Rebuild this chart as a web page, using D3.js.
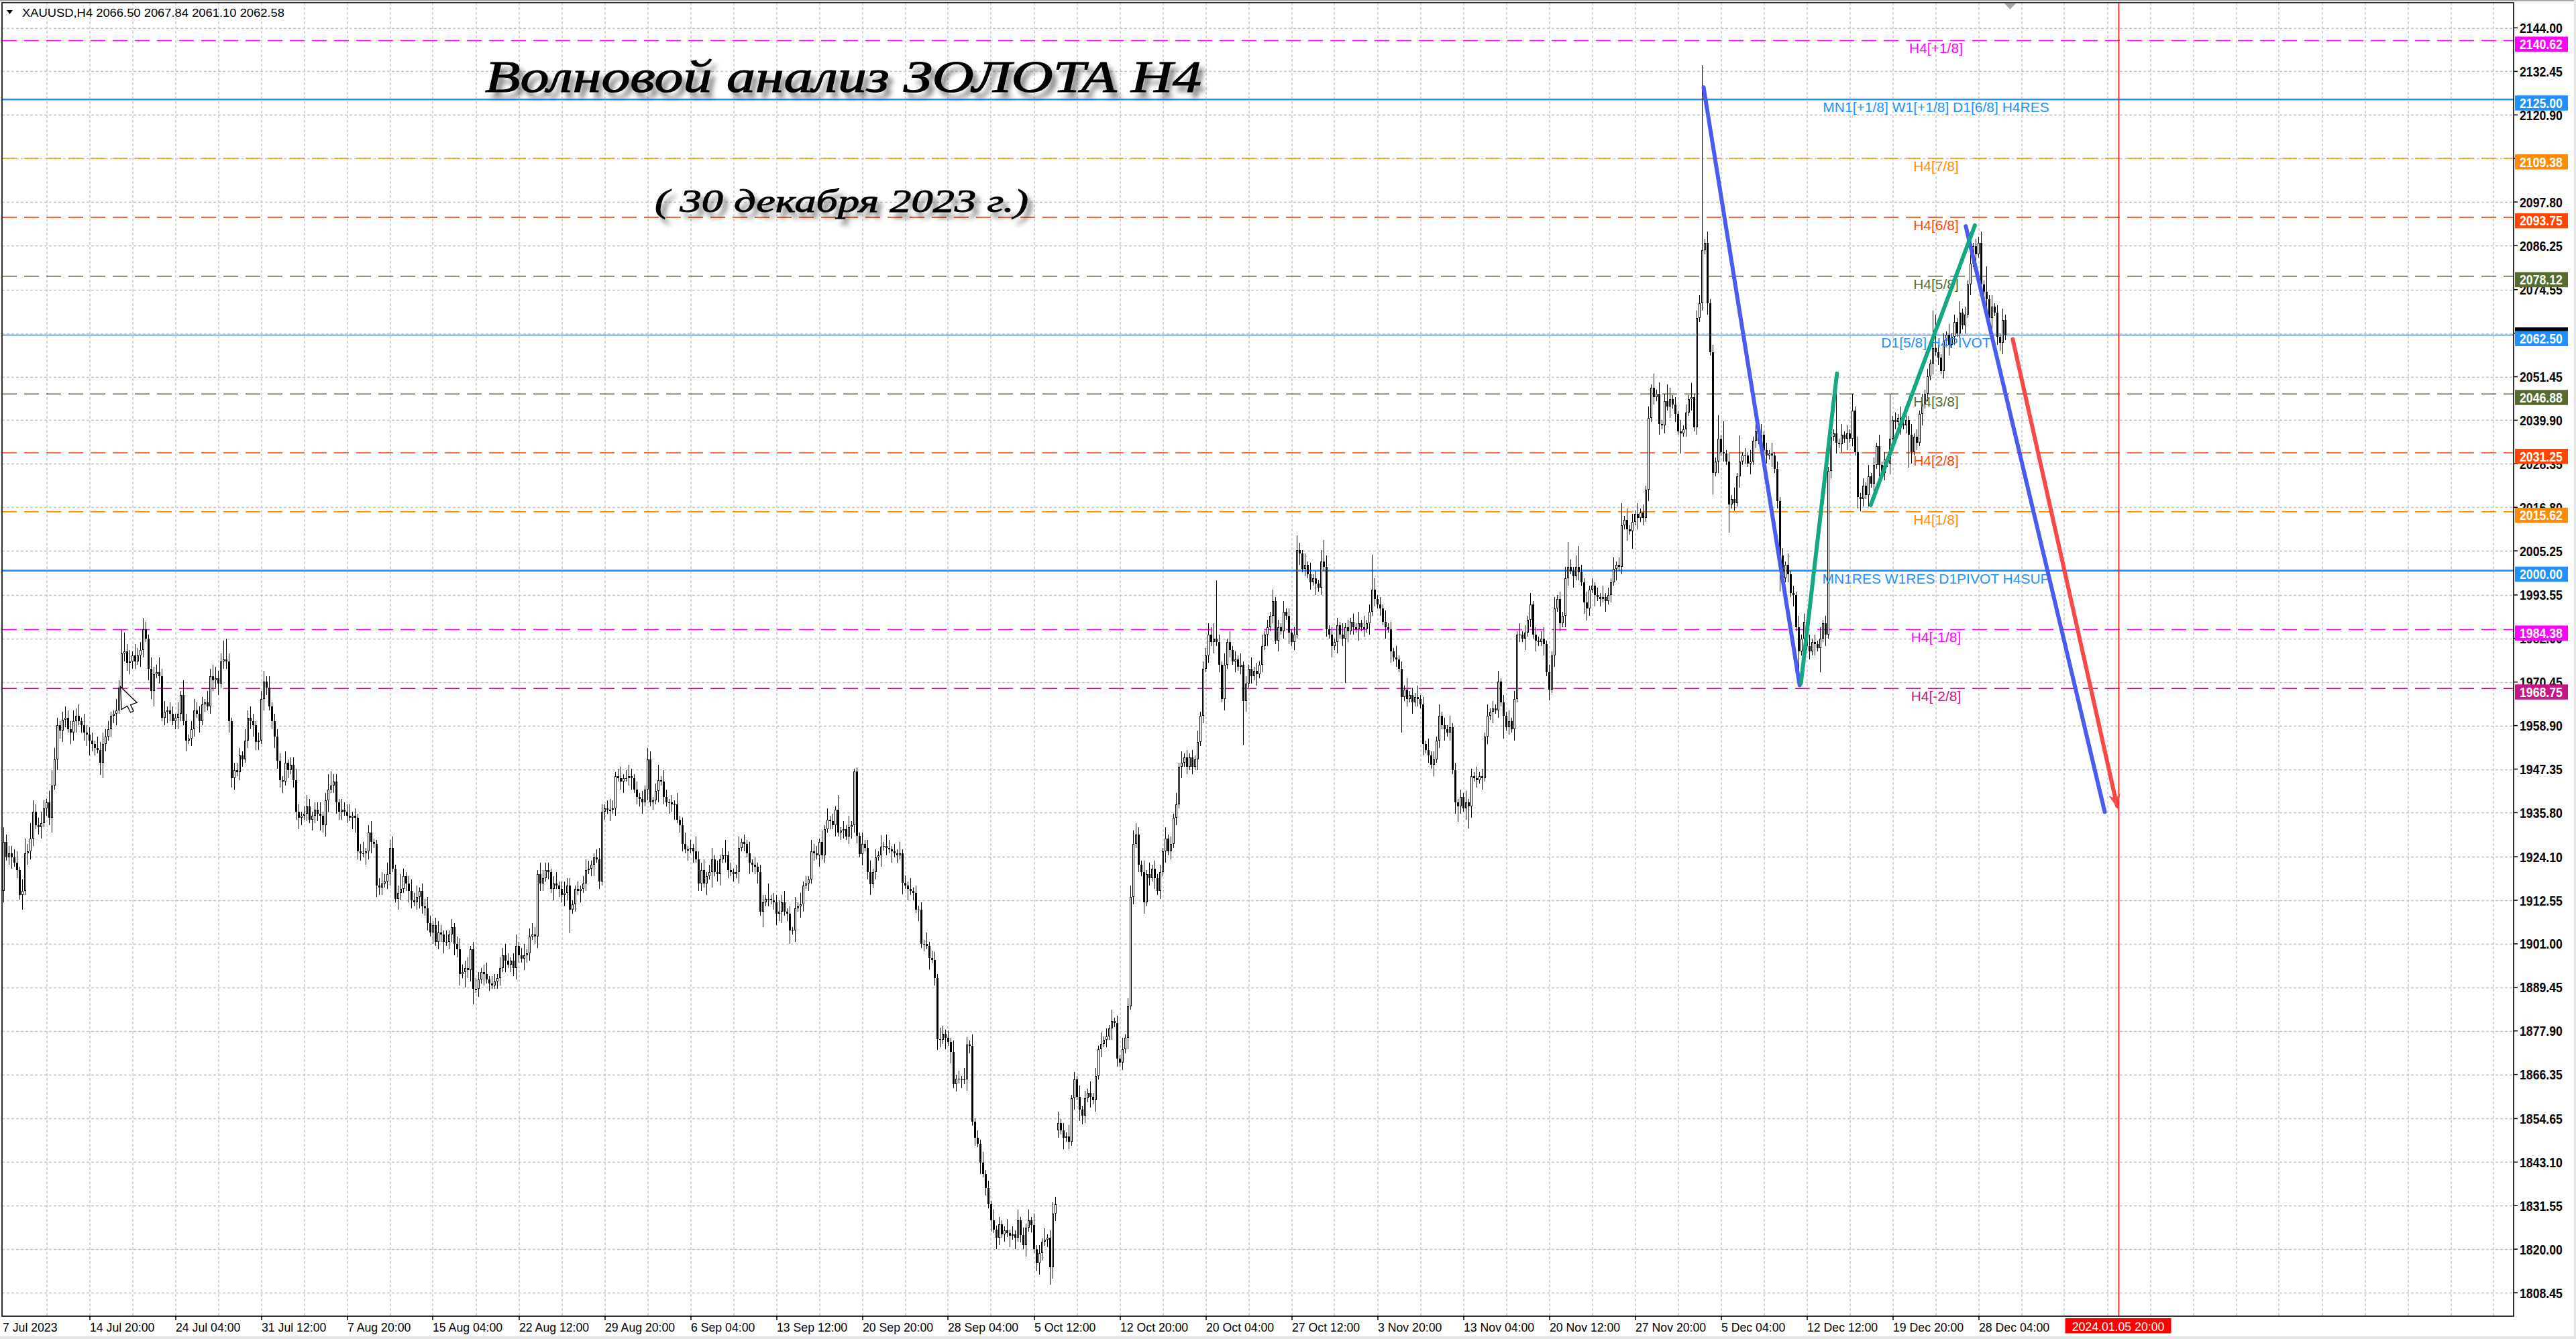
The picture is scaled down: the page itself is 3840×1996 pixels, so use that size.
<!DOCTYPE html>
<html><head><meta charset="utf-8">
<script src="https://cdn.jsdelivr.net/npm/d3@7"></script>
<style>
html,body{margin:0;padding:0;background:#fff;overflow:hidden;}
svg{display:block;}
</style></head>
<body>
<svg id="chart" width="3840" height="1996"></svg>
<script>
// ---------------- DATA ----------------
// H4 closes of XAUUSD, one array per trading week (bar 0 = 7 Jul 2023 08:00)
const w00 = [1915, 1928, 1924, 1925];
const w01 = [1924, 1922.5, 1920.5, 1914, 1915, 1925, 1925.5, 1929, 1936, 1932.5,
             1932, 1933, 1937, 1938.5, 1934.5, 1943, 1950, 1959, 1957.5, 1960.5,
             1961, 1958, 1957, 1960, 1961.5, 1960, 1959, 1957, 1956.5, 1955];
const w02 = [1954, 1953, 1952.5, 1949, 1954, 1956, 1958, 1961.5, 1962, 1963,
             1969, 1978, 1978.5, 1975.5, 1976, 1977.5, 1976, 1977.5, 1979, 1984.5,
             1982, 1974, 1968, 1972.5, 1973, 1972, 1961, 1962.5, 1963, 1962];
const w03 = [1960, 1961, 1962, 1967, 1960, 1955, 1955.5, 1958, 1963, 1962,
             1960, 1964.5, 1965, 1964, 1972, 1971, 1971.5, 1970, 1976, 1976.5,
             1976, 1960, 1945, 1947, 1946.5, 1951, 1950, 1955, 1961, 1960];
const w04 = [1959, 1954.5, 1955, 1966, 1970.5, 1969, 1964, 1960, 1956, 1949.5,
             1944.5, 1944, 1949, 1947, 1948.5, 1944.5, 1936, 1934.5, 1935, 1935.5,
             1937.5, 1934, 1935, 1936.5, 1935.5, 1935, 1932.5, 1939, 1942, 1943];
const w05 = [1944, 1938.5, 1936, 1936.5, 1936, 1935, 1934.5, 1935, 1934.5, 1925.5,
             1925, 1925, 1925.5, 1930.5, 1928, 1927.5, 1916.5, 1916, 1917, 1917.5,
             1919.5, 1926.5, 1921, 1913, 1914.5, 1915.5, 1919, 1917, 1915, 1912.5];
const w06 = [1912, 1913.5, 1915, 1911, 1910.5, 1906.5, 1904, 1906, 1901.5, 1904,
             1903.5, 1901.5, 1901.5, 1903.5, 1905.5, 1901, 1899.5, 1893, 1893.5, 1894.5,
             1894, 1899.5, 1889, 1889, 1891.5, 1893.5, 1893, 1891.5, 1890.5, 1890];
const w07 = [1891, 1892, 1894.5, 1898, 1896.5, 1895.5, 1896.5, 1894.5, 1900.5, 1898,
             1897, 1898, 1898.5, 1903, 1903.5, 1903, 1919.5, 1917, 1918.5, 1920.5,
             1920, 1915.5, 1917, 1916.5, 1915.5, 1914, 1914.5, 1916.5, 1910, 1911.5];
const w08 = [1915.5, 1915, 1915.5, 1917, 1920.5, 1921, 1922, 1924, 1923.5, 1917.5,
             1936, 1937, 1936.5, 1936.5, 1937, 1945.5, 1945, 1944, 1945, 1945,
             1945.5, 1945, 1942, 1940, 1939.5, 1938.5, 1942, 1950, 1938.5, 1939];
const w09 = [1941.5, 1944.5, 1944, 1940, 1938.5, 1938.5, 1938, 1938, 1934, 1932.5,
             1927.5, 1926, 1926, 1926.5, 1925.5, 1923.5, 1917, 1920.5, 1917, 1919,
             1920, 1923.5, 1920, 1919.5, 1923.5, 1924.5, 1924.5, 1920.5, 1920, 1919.5];
const w10 = [1920, 1926.5, 1928, 1927.5, 1925, 1922.5, 1922, 1921.5, 1920, 1909.5,
             1912, 1913, 1913, 1912.5, 1912, 1909, 1909.5, 1912, 1909.5, 1909,
             1904.5, 1904.5, 1910.5, 1911, 1911.5, 1916.5, 1917, 1918, 1925.5, 1925];
const w11 = [1924.5, 1928, 1924.5, 1931.5, 1934, 1933.5, 1932.5, 1936.5, 1930.5, 1931,
             1931.5, 1929.5, 1932, 1932.5, 1946.8, 1929.6, 1924.9, 1927.5, 1926.5, 1920,
             1916.8, 1920, 1924, 1924.5, 1926.8, 1927, 1926.5, 1926, 1925.5, 1925];
const w12 = [1924.5, 1925, 1917.2, 1916.5, 1915.5, 1915, 1914.5, 1910.1, 1910, 1901,
             1901, 1900.5, 1897.2, 1896.8, 1892, 1875.8, 1875.5, 1877.2, 1876, 1875,
             1872.4, 1863.8, 1865.3, 1865, 1864.8, 1865, 1874.3, 1874, 1853.8, 1849.5];
const w13 = [1848, 1842.9, 1840, 1836.2, 1831.9, 1827.6, 1825.2, 1823, 1826.6, 1824,
             1825, 1824.2, 1823.5, 1824, 1823, 1827.6, 1823.8, 1821, 1825.7, 1827.6,
             1826.5, 1820, 1816.2, 1819, 1821.9, 1822.5, 1823, 1815.2, 1829.5, 1831.9];
const w14 = [1853.5, 1851.5, 1849.5, 1850, 1848.5, 1860, 1865, 1860.5, 1857, 1855.5,
             1860, 1861.5, 1860.5, 1859.5, 1866, 1873, 1874.5, 1875.5, 1876.5, 1878.5,
             1880.5, 1880, 1870.5, 1869.5, 1873, 1876, 1884.5, 1913.5, 1927.5, 1930];
const w15 = [1922, 1920, 1912, 1919.5, 1918.5, 1921, 1918.5, 1915, 1920, 1925.5,
             1929, 1925.5, 1927.5, 1934.5, 1938, 1948, 1949, 1950.5, 1948, 1950.5,
             1948, 1950, 1954.5, 1961.5, 1974, 1977.5, 1983, 1981, 1982, 1981];
const w16 = [1975, 1966, 1975, 1981, 1979, 1976, 1976.5, 1974.5, 1975, 1965.5,
             1970, 1974, 1972, 1973.5, 1972.5, 1975, 1980, 1983, 1985, 1988,
             1992, 1981.5, 1985, 1984, 1989, 1988, 1983.5, 1981, 1983, 2005.5];
const w17 = [2004.5, 2000.5, 2001.5, 1999, 1997, 1998, 1996.5, 1995.5, 2002.5, 2001,
             1984.5, 1983, 1980, 1981, 1985.5, 1983, 1982, 1985, 1984, 1986.5,
             1985, 1984.5, 1986, 1985, 1984.5, 1986, 1989, 1995, 1992.5, 1991];
const w18 = [1990, 1986.5, 1985, 1984.5, 1978.5, 1977, 1976.5, 1974, 1966.5, 1968.5,
             1966, 1967, 1965, 1966.5, 1966, 1964.5, 1954, 1952.5, 1951, 1948.5,
             1950, 1955, 1961.5, 1959, 1958, 1957, 1958.5, 1947, 1938.5, 1937.5];
const w19 = [1940, 1937, 1938.5, 1937.5, 1945.5, 1945, 1944.5, 1945.5, 1945, 1956,
             1961.5, 1962.5, 1963.5, 1963, 1970.5, 1965, 1961.5, 1958.5, 1960, 1958,
             1966, 1983, 1983, 1982, 1983.5, 1987, 1991, 1983, 1981.5, 1981];
const w20 = [1982, 1980.5, 1973, 1968.5, 1977.5, 1990, 1992.5, 1986, 1988, 1998,
             2001, 2000, 1998.5, 2001, 1999.5, 1997, 1991.5, 1990, 1995, 1996,
             1993.5, 1993, 1992.5, 1993, 1992, 1993.5, 1997, 2000.5, 2001.5, 2001];
const w21 = [2012, 2013.5, 2011, 2010.5, 2013, 2015, 2014, 2015.5, 2014, 2021.5,
             2040.5, 2048.5, 2046, 2047, 2039, 2038.5, 2045, 2043.5, 2045.5, 2044,
             2041.5, 2037, 2036.5, 2037.5, 2042, 2045.5, 2046, 2038, 2067, 2071];
const w22 = [2085, 2087, 2071, 2058, 2026, 2029, 2035, 2031.5, 2031, 2029,
             2017.5, 2019, 2018, 2025, 2029, 2030.5, 2030.5, 2028.5, 2029, 2034.5,
             2037, 2034.5, 2036, 2032, 2030.5, 2031, 2030.5, 2027, 2018.5, 2004];
const w23 = [1998, 2001.5, 1999, 1994, 1993.5, 1985, 1978.5, 1982, 1986.5, 1980,
             1978.5, 1981, 1980.5, 1979.5, 1982, 1986, 1983, 2026.5, 2035.5, 2036.5,
             2034, 2033.5, 2036, 2035, 2036.5, 2035, 2042.5, 2031.5, 2019.5, 2019];
const w24 = [2022.5, 2020, 2025, 2023, 2028, 2033, 2028, 2026, 2029.5, 2028.5,
             2035, 2040, 2039.5, 2040.5, 2039, 2038.5, 2040, 2036, 2031.5, 2035.5,
             2034, 2041.5, 2044, 2047, 2051.5, 2055, 2059, 2058, 2056.5, 2053];
const w25 = [2061, 2062.5, 2060, 2062, 2066, 2063, 2068.5, 2065, 2068, 2076,
             2081.5, 2086, 2084, 2087, 2076, 2074, 2072, 2067, 2070, 2068.5,
             2062, 2060.5, 2066.5, 2062.58];

// upper / lower wick lengths (USD) estimated per bar, week by week
const upperWicks = ["3422",
 "2231342432 2321343212 3223231322","2132322113 2652313224 2132242312","2131421232 2213233225 3212221323",
 "2122323122 2131223212 3212231243","2213223121 2312311232 3231242123","2312232123 2131212322 3123212312",
 "2132321231 2312321322 2123123221","1212321123 2123212312 3212121621","2413212131 2312142231 2313124121",
 "2312131212 2141223231 2131312132","2131312141 2131211312 3121313212","1312131212 1312213212 1312132131",
 "2131213121 1312131213 1312131232","3121312131 2131213121 3121312323","2131312121 3121313121 2131223242",
 "2131312131 2131213121 3121312124","2131312131 3121213121 2131312131","2131213121 3121312131 2131213121",
 "2131213121 3121312131 2131213121","2312131213 1213121312 1213121312","2131213121 3121312131 2131213122",
 "3131213141 2131312131 2131213121","2131213121 3121312131 2131213141","2131213121 3121312131 2131213121",
 "2131213121 3121312131 2131"];
const lowerWicks = ["2312",
 "3122413221 2312241323 2132312234","2213421223 1322322132 1324121232","1232131221 3121232312 2343122122",
 "3221321232 2312122321 2132242331","2322121342 2132313221 2311321232","1232221312 2312232314 2321213121",
 "1221312232 1322123221 2131223241","2131212312 1213121231 2312231312","1312132412 2131312213 1412312212",
 "1312132231 4121232312 2131321212","1312121312 2123221312 3121312131","2131312131 2131232131 3121213212",
 "1312131321 2131312131 2123212532","2131213131 2131312121 3121213121","2131213121 3121213121 2131212131",
 "2131213121 3121312131 2131213121","3121213121 2131312131 2131213121","2131312131 2131213121 3121312131",
 "2131312131 2131213121 3121312131","1312131213 2131213121 3121312131","2131213121 3121312131 2131213121",
 "2131213121 3121312131 2131213121","3121312131 2131213121 3121312131","2131213121 3121312131 2131213121",
 "2131213121 3121312131 2131"];

// bar opens that differ from previous close (weekend gaps)
const openGaps = [[0, 1913], [394, 1851.5]];
// notable extremes [bar, price]
const highMarks = [[45,1984.2],[53,1987.5],[84,1982],[97,1968],[99,1972],[123,1946.8],[241,1953],[318,1947.5],
  [422,1931],[453,1997.4],[483,2009.3],[493,2008.2],[511,2004.2],[584,2007.6],[588,2006.5],[604,2018],
  [616,2052.2],[621,2049.5],[630,2049.8],[634,2134.2],[640,2041.3],[642,2039.6],[648,2035.8],[684,2047.8],
  [690,2047],[704,2046.8],[720,2069],[721,2068],[737,2088.5],[740,2080.8],[747,2067.84]];
const lowMarks = [[7,1912.7],[37,1945.8],[86,1942.5],[176,1885],[212,1903.9],[294,1901],[324,1913.9],[391,1810.5],
  [403,1853.2],[463,1953.7],[501,1970.2],[522,1957.1],[543,1933.3],[547,1931.6],[560,1955.4],[577,1965.6],
  [591,1986.8],[608,2005.9],[626,2031],[638,2020.2],[644,2010],[663,1994.4],[670,1973.5],[678,1973.1],
  [693,2015.7],[711,2027.4],[745,2058.3],[747,2061.1]];

// price axis grid values and the tick labels that show (two are hidden under level boxes)
const priceGrid = ["2144.00","2132.45","2120.90","2109.35","2097.80","2086.25","2074.55","2063.00","2051.45","2039.90",
  "2028.35","2016.80","2005.25","1993.55","1982.00","1970.45","1958.90","1947.35","1935.80","1924.10",
  "1912.55","1901.00","1889.45","1877.90","1866.35","1854.65","1843.10","1831.55","1820.00","1808.45"];
const priceLabels = ["2144.00","2132.45","2120.90","2097.80","2086.25","2074.55","2051.45","2039.90",
  "2028.35","2016.80","2005.25","1993.55","1982.00","1970.45","1958.90","1947.35","1935.80","1924.10",
  "1912.55","1901.00","1889.45","1877.90","1866.35","1854.65","1843.10","1831.55","1820.00","1808.45"];
// time axis labels and their bar indices
const timeLabels = ["7 Jul 2023","14 Jul 20:00","24 Jul 04:00","31 Jul 12:00","7 Aug 20:00","15 Aug 04:00","22 Aug 12:00",
  "29 Aug 20:00","6 Sep 04:00","13 Sep 12:00","20 Sep 20:00","28 Sep 04:00","5 Oct 12:00","12 Oct 20:00","20 Oct 04:00",
  "27 Oct 12:00","3 Nov 20:00","13 Nov 04:00","20 Nov 12:00","27 Nov 20:00","5 Dec 04:00","12 Dec 12:00","19 Dec 20:00","28 Dec 04:00"];
const timeIdx = [0,33,65,97,129,161,193,225,257,289,321,353,385,417,449,481,513,545,577,609,641,673,705,737];

// Murrey / pivot levels
const levelPrices = [2140.62, 2125.00, 2109.38, 2093.75, 2078.12, 2062.50, 2046.88, 2031.25, 2015.62, 2000.00, 1984.38, 1968.75];
const levelNames = ["H4[+1/8]","MN1[+1/8] W1[+1/8] D1[6/8] H4RES","H4[7/8]","H4[6/8]","H4[5/8]","D1[5/8] H4PIVOT",
  "H4[3/8]","H4[2/8]","H4[1/8]","MN1RES W1RES D1PIVOT H4SUP","H4[-1/8]","H4[-2/8]"];
const levelKinds = ["mag","res","ora","red","olv","piv","olv","red","ora","res","mag","vio"];

// wave lines [bar, price] -> [bar, price]
const waveBlue = [[[634.5, 2128.2], [670.3, 1969.6]], [[732.2, 2091.4], [784, 1936]]];
const waveGreen = [[[670.8, 1970.2], [684.2, 2052.3]], [[696.8, 2017.4], [735.6, 2091.6]]];
const waveRed = [[749.7, 2061.4], [788.6, 1937.6]];
const futureBar = 789.25, futureLabel = "2024.01.05 20:00";
const bidPrice = 2062.58;
const header = "XAUUSD,H4  2066.50 2067.84 2061.10 2062.58";
const titleText = "Волновой анализ ЗОЛОТА H4";
const subtitleText = "( 30 декабря 2023 г.)";

// ---------------- STYLES ----------------
const kindStyle = {
  mag:{c:"#ff00ff", dash:"22,11", w:1.6}, res:{c:"#1e90ff", dash:null, w:2.6}, ora:{c:"#ff8c00", dash:"22,11", w:1.6},
  red:{c:"#ff4500", dash:"22,11", w:1.6}, olv:{c:"#556b2f", dash:"22,11", w:1.6}, piv:{c:"#1e90ff", dash:null, w:1.4},
  vio:{c:"#c71585", dash:"22,11", w:1.6}
};
const FONT = "'Liberation Sans', Arial, sans-serif";
const P = {left:3, top:4, right:3747, bottom:1962};

// ---------------- BUILD ----------------
const closes = [].concat(w00,w01,w02,w03,w04,w05,w06,w07,w08,w09,w10,w11,w12,w13,w14,w15,w16,w17,w18,w19,w20,w21,w22,w23,w24,w25);
const upW = upperWicks.join("").replace(/ /g,"").split("").map(Number);
const dnW = lowerWicks.join("").replace(/ /g,"").split("").map(Number);
const openMap = new Map(openGaps), hiMap = new Map(highMarks), loMap = new Map(lowMarks);
const bars = closes.map((c,i)=>{
  const o = openMap.has(i) ? openMap.get(i) : closes[i-1];
  const top = Math.max(o,c), bot = Math.min(o,c);
  const h = hiMap.has(i) ? Math.max(hiMap.get(i), top) : top + (upW[i] ?? 2);
  const l = loMap.has(i) ? Math.min(loMap.get(i), bot) : bot - (dnW[i] ?? 2);
  return {i,o,h,l,c};
});

const x = d3.scaleLinear().domain([0, 747]).range([1.5, 2989.5]);
const y = d3.scaleLinear().domain([1808.45, 2144]).range([1927, 41.5]);

const svg = d3.select("#chart");
svg.append("rect").attr("width",3840).attr("height",1996).attr("fill","#fff");
const defs = svg.append("defs");
const f = defs.append("filter").attr("id","shadow").attr("x","-5%").attr("y","-30%").attr("width","115%").attr("height","180%");
f.append("feGaussianBlur").attr("in","SourceAlpha").attr("stdDeviation",3.5).attr("result","bl");
f.append("feOffset").attr("in","bl").attr("dx",7).attr("dy",9).attr("result","off");
f.append("feFlood").attr("flood-color","#000").attr("flood-opacity",0.45);
f.append("feComposite").attr("in2","off").attr("operator","in");
const fm = f.append("feMerge"); fm.append("feMergeNode"); fm.append("feMergeNode").attr("in","SourceGraphic");
defs.append("clipPath").attr("id","plotclip").append("rect")
  .attr("x",P.left).attr("y",P.top).attr("width",P.right-P.left).attr("height",P.bottom-P.top);
defs.append("marker").attr("id","arrowRed").attr("markerUnits","userSpaceOnUse")
  .attr("viewBox","0 0 10 10").attr("refX",8).attr("refY",5).attr("markerWidth",22).attr("markerHeight",22).attr("orient","auto")
  .append("path").attr("d","M0,1 L10,5 L0,9 L3,5 Z").attr("fill","#f84848");

function squeeze(sel, k){ sel.each(function(){ const n=this.getComputedTextLength(); if(n>0){ this.setAttribute("textLength", (n*k).toFixed(1)); this.setAttribute("lengthAdjust","spacingAndGlyphs"); } }); }

// grid
const grid = svg.append("g").attr("clip-path","url(#plotclip)").attr("stroke","#c4c4c4").attr("stroke-width",1.3).attr("stroke-dasharray","4,3");
grid.selectAll("line.h").data(priceGrid).join("line").attr("class","h")
  .attr("x1",P.left).attr("x2",P.right).attr("y1",d=>Math.round(y(+d))+0.5).attr("y2",d=>Math.round(y(+d))+0.5);
grid.selectAll("line.v").data(d3.range(17, 940, 16)).join("line").attr("class","v")
  .attr("x1",d=>Math.round(x(d))).attr("x2",d=>Math.round(x(d))).attr("y1",P.top).attr("y2",P.bottom);

// level lines
const lv = svg.append("g").attr("clip-path","url(#plotclip)");
lv.selectAll("line").data(levelPrices).join("line")
  .attr("x1",P.left).attr("x2",P.right).attr("y1",d=>y(d)).attr("y2",d=>y(d))
  .attr("stroke",(d,k)=>kindStyle[levelKinds[k]].c).attr("stroke-width",(d,k)=>kindStyle[levelKinds[k]].w)
  .attr("stroke-dasharray",(d,k)=>kindStyle[levelKinds[k]].dash);

// future vertical line
svg.append("line").attr("x1",x(futureBar)).attr("x2",x(futureBar)).attr("y1",P.top).attr("y2",P.bottom)
  .attr("stroke","#ff0000").attr("stroke-width",1.5);

// candles
const cg = svg.append("g").attr("clip-path","url(#plotclip)").attr("shape-rendering","crispEdges");
cg.selectAll("rect.wick").data(bars).join("rect").attr("class","wick")
  .attr("x",d=>x(d.i)-0.6).attr("width",1.2).attr("y",d=>y(d.h)).attr("height",d=>Math.max(1,y(d.l)-y(d.h))).attr("fill","#000");
cg.selectAll("rect.body").data(bars).join("rect").attr("class","body")
  .attr("x",d=>x(d.i)-1.5).attr("width",3)
  .attr("y",d=>y(Math.max(d.o,d.c))).attr("height",d=>Math.max(1.2,y(Math.min(d.o,d.c))-y(Math.max(d.o,d.c))))
  .attr("fill","#000");
cg.selectAll("rect.hollow").data(bars.filter(d=>d.c>d.o && (y(d.o)-y(d.c))>2.5)).join("rect").attr("class","hollow")
  .attr("x",d=>x(d.i)-0.5).attr("width",1)
  .attr("y",d=>y(d.c)+1).attr("height",d=>y(d.o)-y(d.c)-2).attr("fill","#fff");

// level labels
svg.append("g").selectAll("text").data(levelPrices).join("text")
  .attr("x",2886).attr("y",d=>y(d)+19).attr("text-anchor","middle")
  .attr("font-family",FONT).attr("font-size",21).attr("fill",(d,k)=>kindStyle[levelKinds[k]].c)
  .text((d,k)=>levelNames[k]);

// wave lines
const wl = svg.append("g").attr("fill","none").attr("stroke-width",6).attr("stroke-linecap","round");
wl.selectAll("line.b").data(waveBlue).join("line").attr("class","b")
  .attr("x1",d=>x(d[0][0])).attr("y1",d=>y(d[0][1])).attr("x2",d=>x(d[1][0])).attr("y2",d=>y(d[1][1])).attr("stroke","#4a5cf0");
wl.selectAll("line.g").data(waveGreen).join("line").attr("class","g")
  .attr("x1",d=>x(d[0][0])).attr("y1",d=>y(d[0][1])).attr("x2",d=>x(d[1][0])).attr("y2",d=>y(d[1][1])).attr("stroke","#13a883");
wl.append("line").attr("x1",x(waveRed[0][0])).attr("y1",y(waveRed[0][1])).attr("x2",x(waveRed[1][0])).attr("y2",y(waveRed[1][1]))
  .attr("stroke","#f84848").attr("marker-end","url(#arrowRed)");

// frame
svg.append("rect").attr("x",P.left).attr("y",P.top).attr("width",P.right-P.left).attr("height",P.bottom-P.top)
  .attr("fill","none").attr("stroke","#000").attr("stroke-width",1.6);
svg.append("rect").attr("x",0).attr("y",0).attr("width",3840).attr("height",2).attr("fill","#a8a8a8");
svg.append("rect").attr("x",0).attr("y",1992).attr("width",3840).attr("height",4).attr("fill","#e6e6e6");
svg.append("rect").attr("x",3837).attr("y",0).attr("width",3).attr("height",1996).attr("fill","#e6e6e6");
// chart shift marker
svg.append("path").attr("d","M2988,5 L3005,5 L2996.5,14 Z").attr("fill","#a8a8a8");

// price axis
const pa = svg.append("g");
pa.selectAll("line").data(priceGrid).join("line").attr("x1",P.right).attr("x2",P.right+6)
  .attr("y1",d=>y(+d)).attr("y2",d=>y(+d)).attr("stroke","#000").attr("stroke-width",1.5);
const ptx = pa.selectAll("text").data(priceLabels).join("text").attr("x",3756).attr("y",d=>y(+d)+7.5)
  .attr("font-family",FONT).attr("font-size",21).attr("font-weight","bold").attr("fill","#000").text(d=>d);
squeeze(ptx, 0.84);
// bid marker (mostly hidden)
svg.append("rect").attr("x",3749).attr("y",y(bidPrice)-11).attr("width",79).attr("height",22).attr("fill","#000");
const bx = svg.append("g");
bx.selectAll("rect").data(levelPrices).join("rect").attr("x",3749).attr("y",d=>y(d)-6).attr("width",79).attr("height",22.5)
  .attr("fill",(d,k)=>kindStyle[levelKinds[k]].c);
const btx = bx.selectAll("text").data(levelPrices).join("text").attr("x",3756).attr("y",d=>y(d)+12.5)
  .attr("font-family",FONT).attr("font-size",21).attr("font-weight","bold").attr("fill","#fff").text(d=>d.toFixed(2));
squeeze(btx, 0.84);

// time axis
const ta = svg.append("g");
ta.selectAll("line").data(timeIdx.slice(1)).join("line").attr("x1",d=>Math.round(x(d))).attr("x2",d=>Math.round(x(d)))
  .attr("y1",P.bottom).attr("y2",P.bottom+6).attr("stroke","#000").attr("stroke-width",1.5);
const ttx = ta.selectAll("text").data(timeIdx).join("text").attr("x",(d,k)=>k===0?4:Math.round(x(d)))
  .attr("y",1985).attr("font-family",FONT).attr("font-size",19).attr("fill","#000").text((d,k)=>timeLabels[k]);
squeeze(ttx, 0.93);
svg.append("rect").attr("x",x(futureBar)-80).attr("y",1965).attr("width",158).attr("height",22.5).attr("fill","#ff0000");
const ft = svg.append("text").attr("x",x(futureBar)-1).attr("y",1984).attr("text-anchor","middle")
  .attr("font-family",FONT).attr("font-size",19).attr("fill","#fff").text(futureLabel);
squeeze(ft, 0.93);

// header
svg.append("path").attr("d","M10,15 L19,15 L14.5,21 Z").attr("fill","#000");
const hd = svg.append("text").attr("x",33).attr("y",25).attr("font-family",FONT).attr("font-size",16).attr("fill","#000").text(header);
hd.attr("textLength",391).attr("lengthAdjust","spacingAndGlyphs");

// title & subtitle
svg.append("text").attr("x",723).attr("y",137).attr("font-family","'Liberation Serif', 'DejaVu Serif', serif")
  .attr("font-style","italic").attr("font-size",68).attr("fill","#000").attr("stroke","#000").attr("stroke-width",1.2)
  .attr("filter","url(#shadow)")
  .attr("textLength",1068).attr("lengthAdjust","spacingAndGlyphs").text(titleText);
svg.append("text").attr("x",976).attr("y",316).attr("font-family","'Liberation Serif', 'DejaVu Serif', serif")
  .attr("font-style","italic").attr("font-size",48).attr("fill","#000").attr("stroke","#000").attr("stroke-width",1)
  .attr("filter","url(#shadow)")
  .attr("textLength",557).attr("lengthAdjust","spacingAndGlyphs").text(subtitleText);

// mouse pointer
svg.append("path").attr("d","M179.6,1023.7 L181.1,1057.6 L189.8,1052.5 L194.5,1062 L199,1060 L194.5,1050.6 L204.1,1047.3 Z")
  .attr("fill","#fff").attr("stroke","#000").attr("stroke-width",1.3);
</script>
</body></html>
